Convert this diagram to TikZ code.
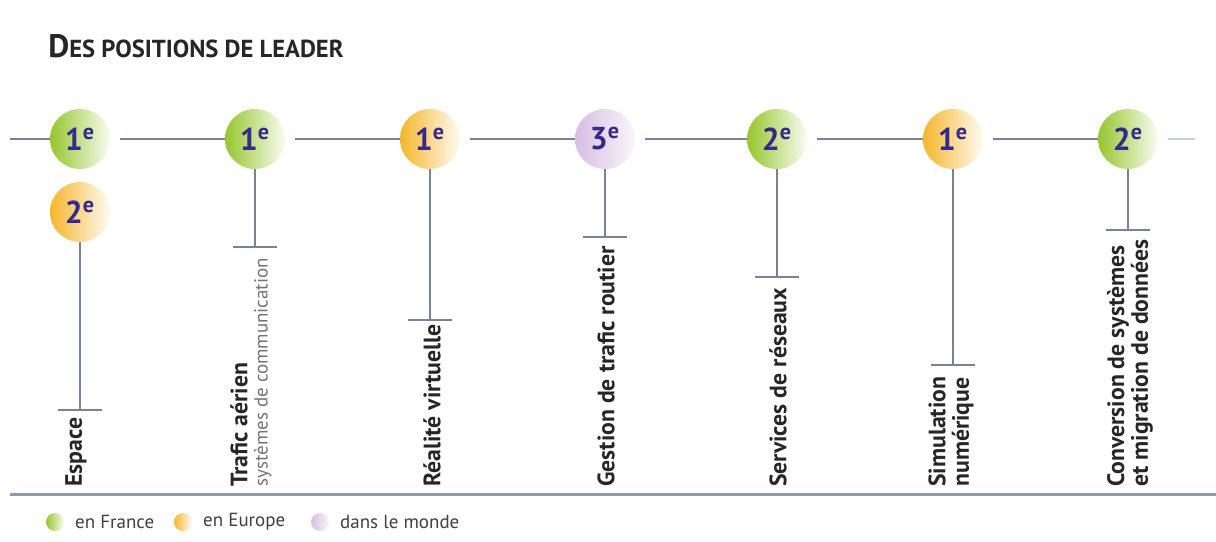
\documentclass[tikz,border=0pt]{standalone}
\usepackage{fontspec}
\setmainfont{PT Sans}
\usetikzlibrary{positioning}

\definecolor{frc}{RGB}{150,198,45}
\definecolor{euc}{RGB}{245,182,45}
\definecolor{moc}{RGB}{214,190,226}
\definecolor{numc}{RGB}{55,40,140}
\definecolor{linec}{RGB}{118,132,152}

\begin{document}
\begin{tikzpicture}[x=0.02cm, y=-0.02cm, font=\small,
  rank/.style={circle, minimum size=1.2cm, inner sep=0pt,
    font=\fontsize{18}{18}\selectfont\bfseries, text=numc},
  fr/.style={rank, left color=frc, right color=frc!6},
  eu/.style={rank, left color=euc, right color=euc!6},
  mo/.style={rank, left color=moc, right color=moc!15},
  hline/.style={draw=linec, line width=1.6pt},
  stem/.style={draw=linec, line width=1.1pt},
  lab/.style={rotate=90, anchor=west, align=left, inner sep=0pt,
    font=\fontsize{13.5}{13.5}\selectfont\bfseries, text=black!85},
  key/.style={font=\fontsize{10.8}{12}\selectfont, text=black!75, inner sep=0pt}]
  \useasboundingbox (0,0) rectangle (1216,541);

  \node[anchor=base west, inner sep=0pt, text=black!85, font=\bfseries] (title) at (48,57)
    {\fontsize{18.5}{18}\selectfont D\fontsize{14}{14}\selectfont ES POSITIONS DE LEADER};

  \node[fr] (c1) at (80,139) {1\textsuperscript{e}};
  \node[eu] (c1b) at (80,212) {2\textsuperscript{e}};
  \node[fr] (c2) at (255,139) {1\textsuperscript{e}};
  \node[eu] (c3) at (430,139) {1\textsuperscript{e}};
  \node[mo] (c4) at (605,139) {3\textsuperscript{e}};
  \node[fr] (c5) at (777,139) {2\textsuperscript{e}};
  \node[eu] (c6) at (953,139) {1\textsuperscript{e}};
  \node[fr] (c7) at (1128,139) {2\textsuperscript{e}};

  \coordinate (h0) at (10,139);
  \coordinate (h8) at (1195,139);
  \draw[hline] (h0) -- (c1);
  \draw[hline, shorten <=0.2cm] (c1) -- (c2);
  \draw[hline, shorten <=0.2cm] (c2) -- (c3);
  \draw[hline, shorten <=0.2cm] (c3) -- (c4);
  \draw[hline, shorten <=0.2cm] (c4) -- (c5);
  \draw[hline, shorten <=0.2cm] (c5) -- (c6);
  \draw[hline, shorten <=0.2cm] (c6) -- (c7);
  \draw[hline, draw=linec!40, shorten <=0.2cm] (c7) -- (h8);

  \coordinate (t1) at (80,410);
  \coordinate (t2) at (255,247);
  \coordinate (t3) at (430,320);
  \coordinate (t4) at (605,237);
  \coordinate (t5) at (777,277);
  \coordinate (t6) at (953,365);
  \coordinate (t7) at (1128,230);
  \draw[stem] (c1b) -- (t1) +(-22,0) -- +(22,0);
  \draw[stem] (c2) -- (t2) +(-22,0) -- +(22,0);
  \draw[stem] (c3) -- (t3) +(-22,0) -- +(22,0);
  \draw[stem] (c4) -- (t4) +(-22,0) -- +(22,0);
  \draw[stem] (c5) -- (t5) +(-22,0) -- +(22,0);
  \draw[stem] (c6) -- (t6) +(-22,0) -- +(22,0);
  \draw[stem] (c7) -- (t7) +(-22,0) -- +(22,0);

  \node[lab] (l1) at (76,487) {Espace};
  \node[lab] (l2) at (251,487) {Trafic aérien\\[-2pt]
    {\fontsize{10.8}{11}\selectfont\mdseries\color{black!55}systèmes de communication}};
  \node[lab] (l3) at (432,487) {Réalité virtuelle};
  \node[lab] (l4) at (606,487) {Gestion de trafic routier};
  \node[lab] (l5) at (778,487) {Services de réseaux};
  \node[lab] (l6) at (951,487) {Simulation\\numérique};
  \node[lab] (l7) at (1130,487) {Conversion de systèmes\\et migration de données};

  \coordinate (b0) at (10,494);
  \coordinate (b1) at (1216,494);
  \draw[draw=linec!80, line width=1.7pt] (b0) -- (b1);

  \node[fr, minimum size=0.36cm] (k1) at (55,522) {};
  \node[key, right=6pt of k1] (k1t) {en France};
  \node[eu, minimum size=0.36cm] (k2) at (183,522) {};
  \node[key, right=6pt of k2] (k2t) {en Europe};
  \node[mo, minimum size=0.36cm] (k3) at (320,522) {};
  \node[key, right=6pt of k3] (k3t) {dans le monde};
\end{tikzpicture}
\end{document}
